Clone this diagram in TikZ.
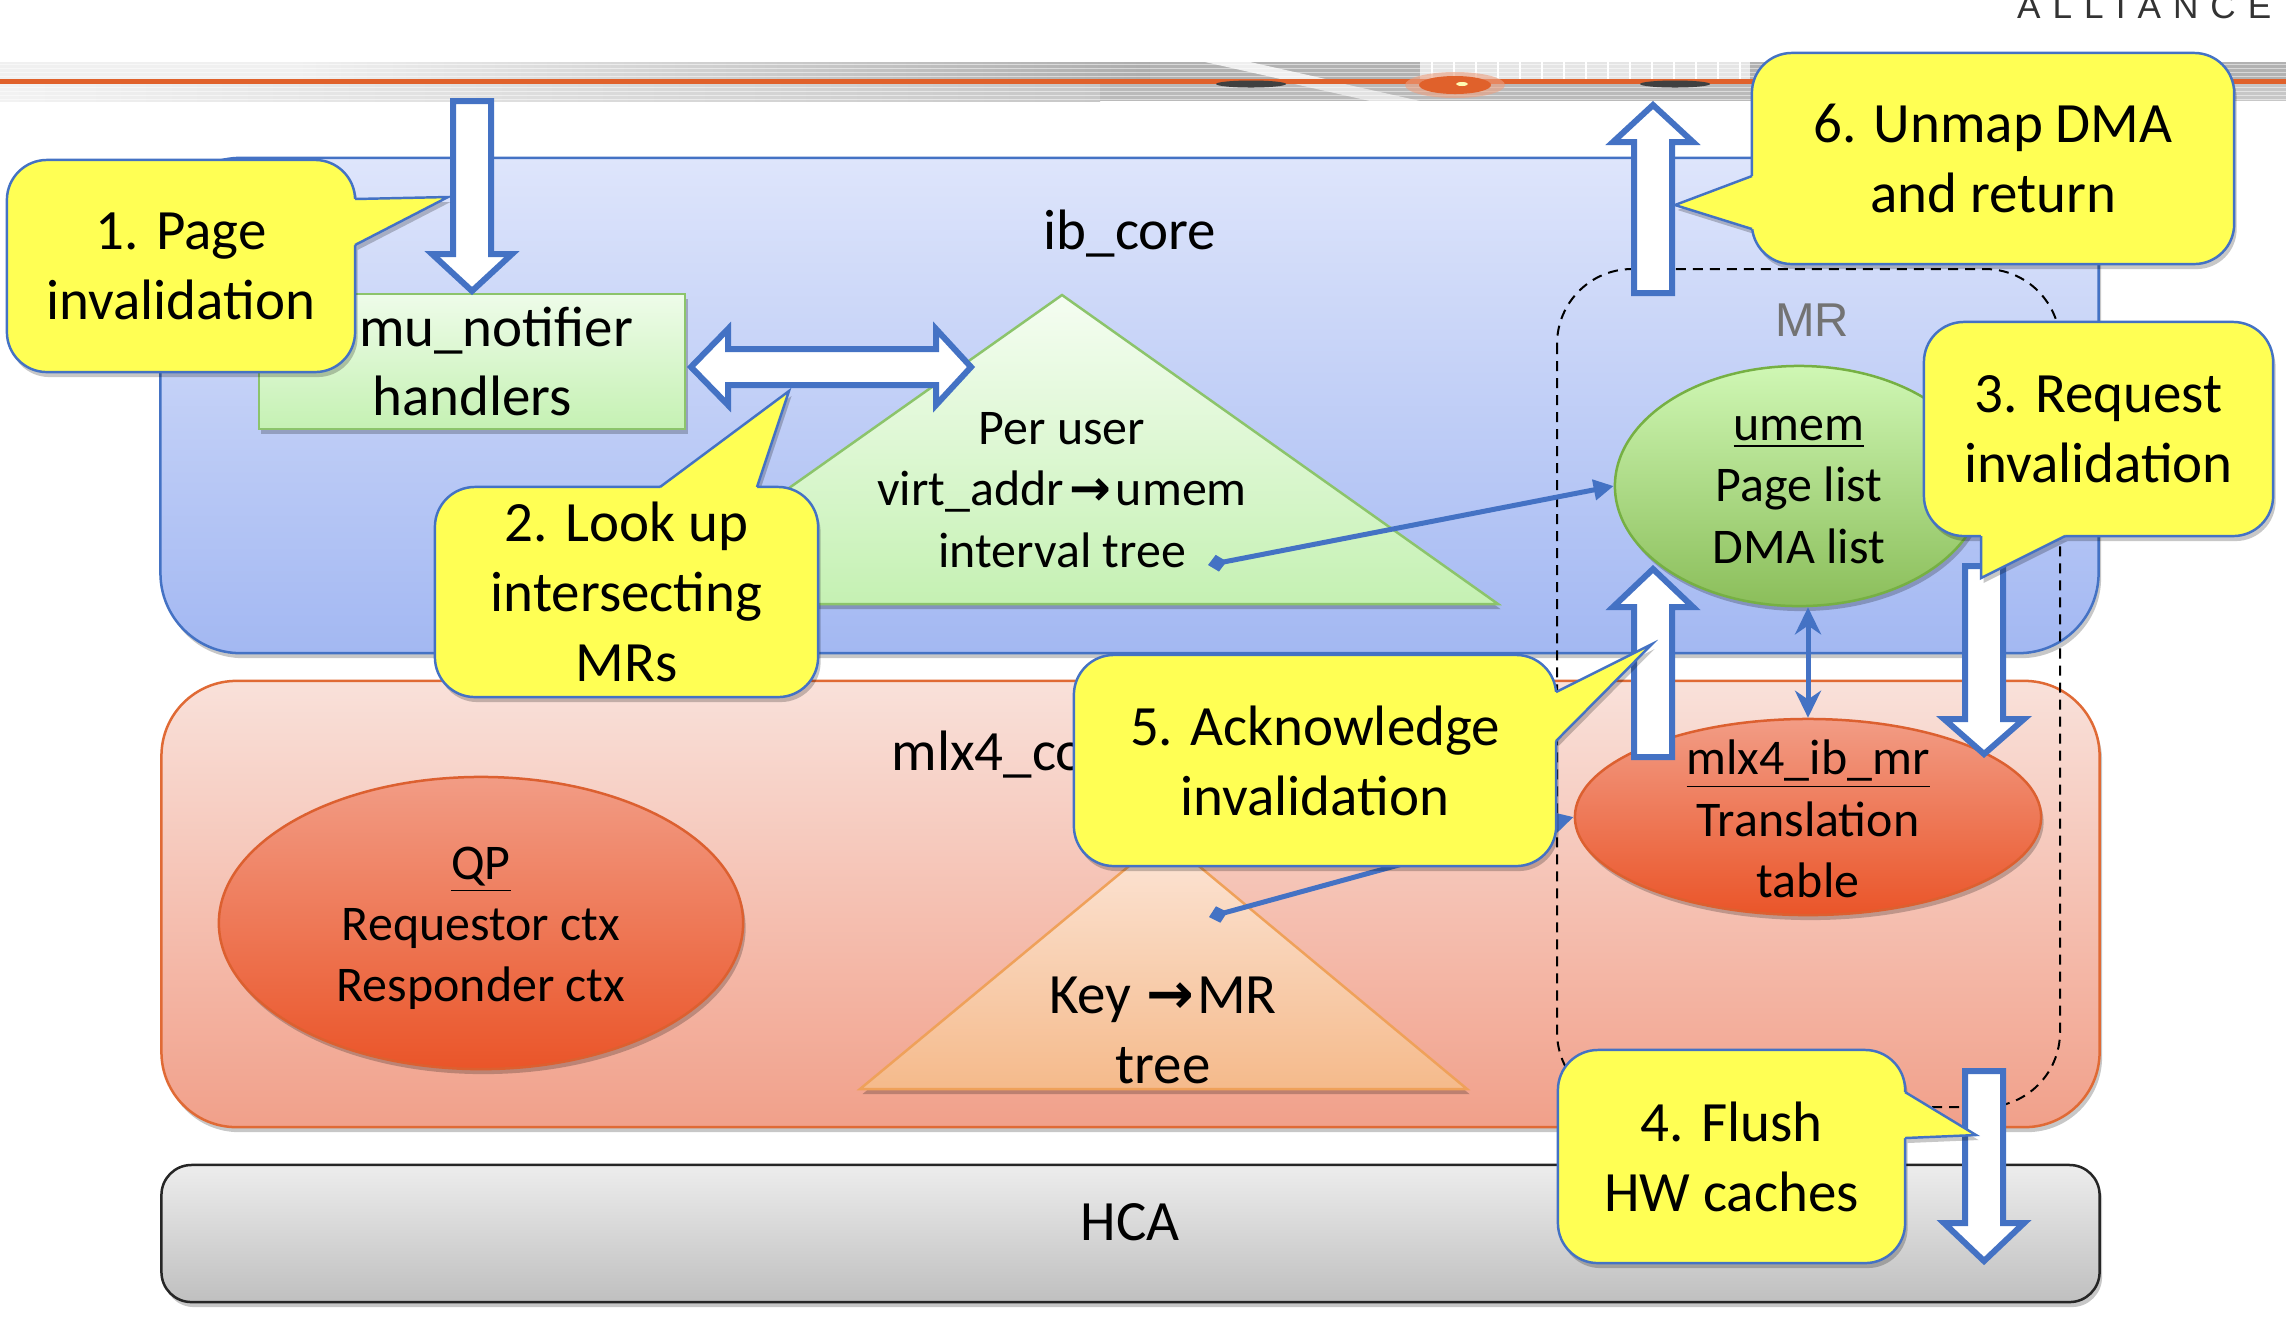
\documentclass[tikz,border=0pt]{standalone}
\usepackage{fontspec}
\setmainfont{Carlito}
\newfontfamily\arrowfont{DejaVu Sans}
\newfontfamily\logofont{Liberation Sans}
\usetikzlibrary{shadows,arrows.meta,shapes.geometric}
\definecolor{cblue}{HTML}{4472C4}
\definecolor{cyel}{HTML}{FFFF54}
\definecolor{corange}{HTML}{E0612B}
\definecolor{ibtop}{HTML}{DEE5FB}
\definecolor{ibbot}{HTML}{A3B8F2}
\definecolor{mlxtop}{HTML}{F9E1DA}
\definecolor{mlxbot}{HTML}{F1A08A}
\definecolor{mlxline}{HTML}{E06A35}
\definecolor{gtop}{HTML}{EEFCE9}
\definecolor{gbot}{HTML}{C5F1B3}
\definecolor{gline}{HTML}{8CC46B}
\definecolor{umtop}{HTML}{CFF7B4}
\definecolor{umbot}{HTML}{8BBE5A}
\definecolor{umline}{HTML}{76B043}
\definecolor{rtop}{HTML}{F29C85}
\definecolor{rbot}{HTML}{EA5529}
\definecolor{rline}{HTML}{DC6030}
\definecolor{ktop}{HTML}{FCE6D8}
\definecolor{kbot}{HTML}{F5BA8B}
\definecolor{kline}{HTML}{EFA15A}
\newcommand\bigtxt{\fontsize{16.2pt}{19.9pt}\selectfont}
\newcommand\smalltxt{\fontsize{14.2pt}{17.4pt}\selectfont}
\newcommand\myarrow{{\arrowfont\bfseries →}}
\tikzset{
  softshadow/.style={drop shadow={shadow xshift=0.025cm,shadow yshift=-0.05cm,opacity=0.22,fill=black}},
  callbox/.style={draw=cblue,line width=0.7pt,fill=cyel,rounded corners=0.4cm,inner sep=0pt,align=center,font=\bigtxt,softshadow},
  ptrshadow/.style={fill=cyel,softshadow},
  ptrline/.style={draw=cblue,line width=0.7pt,line join=miter},
  blockarrow/.style={draw=cblue,line width=0.06cm,fill=white,line join=miter},
  conn/.style={draw=cblue,line width=0.05cm},
  lbl/.style={font=\bigtxt,inner sep=0pt},
  slbl/.style={font=\smalltxt,inner sep=0pt,align=center},
  blbl/.style={font=\bigtxt,inner sep=0pt,align=center},
  layerib/.style={draw=cblue,line width=0.025cm,top color=ibtop,bottom color=ibbot,rounded corners=0.8cm,inner sep=0pt,softshadow},
  layermlx/.style={draw=mlxline,line width=0.025cm,top color=mlxtop,bottom color=mlxbot,rounded corners=0.75cm,inner sep=0pt,softshadow},
  layerhca/.style={draw=black!85,line width=0.025cm,top color=black!7,bottom color=black!25,rounded corners=0.3cm,inner sep=0pt,softshadow},
  greenbox/.style={draw=gline,line width=0.025cm,top color=gtop,bottom color=gbot,inner sep=0pt,align=center,font=\bigtxt,softshadow},
  tri1/.style={draw=gline,line width=0.025cm,top color=gtop!60!white,bottom color=gbot,softshadow},
  tri2/.style={draw=kline,line width=0.025cm,top color=ktop,bottom color=kbot,softshadow},
  umemshape/.style={ellipse,draw=umline,line width=0.025cm,top color=umtop,bottom color=umbot,inner sep=0pt,softshadow},
  redshape/.style={ellipse,draw=rline,line width=0.025cm,top color=rtop,bottom color=rbot,inner sep=0pt,softshadow},
  mrbox/.style={draw=black,line width=0.02cm,dash pattern=on 0.1cm off 0.07cm,rounded corners=0.75cm},
}
\newcommand\vblock[4]{\path[blockarrow] ({#1-19},#2) -- ({#1-19},#3) -- ({#1-40},#3) -- (#1,#4) -- ({#1+40},#3) -- ({#1+19},#3) -- ({#1+19},#2) -- cycle;}
\begin{document}
\begin{tikzpicture}[x=0.01cm,y=-0.01cm]
\useasboundingbox (0,0) rectangle (2286,1326);
\fill[white] (0,0) rectangle (2286,1326);
% ---- banner ----
\fill[black!6] (0,62) rectangle (2286,101);
\shade[left color=black!6, right color=black!32] (300,62) rectangle (1150,80);
\fill[black!30] (1150,62) rectangle (1420,80);
\fill[white, opacity=0.8] (1205,62) -- (1250,62) -- (1330,80) -- (1285,80) -- cycle;
\fill[black!10] (1420,62) rectangle (1750,80);
\foreach \xx in {1432,1454,...,1750} \draw[white, line width=0.015cm] (\xx,62) -- (\xx,80);
\fill[black!30] (1750,62) rectangle (2286,80);
\shade[left color=black!5, right color=black!22] (0,83) rectangle (1100,101);
\fill[black!27] (1100,83) rectangle (1800,101);
\fill[white, opacity=0.6] (1290,83) -- (1340,83) -- (1420,101) -- (1370,101) -- cycle;
\fill[black!22] (1800,83) rectangle (2286,101);
\foreach \yy in {64,68,72,76,87,91,95,99} \draw[white, opacity=0.5, line width=0.01cm] (0,\yy) -- (2286,\yy);
\draw[corange, line width=0.045cm] (0,81.5) -- (2286,81.5);
\fill[black!75] (1251,84) ellipse [x radius=35, y radius=3.5];
\fill[black!75] (1675,84) ellipse [x radius=35, y radius=3.5];
\fill[corange!60, opacity=0.6] (1455,85) ellipse [x radius=50, y radius=13];
\fill[corange] (1455,85) ellipse [x radius=36, y radius=9];
\fill[yellow!30] (1462,84) ellipse [x radius=6, y radius=2];
\begin{scope}
\clip (0,0) rectangle (2286,1326);
\node[anchor=base east, inner sep=0pt, text=black!80, font=\logofont\fontsize{10pt}{12pt}\selectfont] (alliance) at (2272,18) {A\kern0.12cm L\kern0.12cm L\kern0.12cm I\kern0.12cm A\kern0.12cm N\kern0.12cm C\kern0.12cm E};
\end{scope}
% ---- layers ----
\node[layerib, minimum width=19.37cm, minimum height=4.95cm] (ibcore) at (1129.5,405.5) {};
\node[layermlx, minimum width=19.37cm, minimum height=4.46cm] (mlxcore) at (1130.5,904) {};
\node[layerhca, minimum width=19.37cm, minimum height=1.37cm] (hca) at (1130.5,1233.5) {};
\node[lbl] (iblabel) at (1130,234) {ib\_core};
\node[lbl, anchor=west] (mlxlabel) at (891,755) {mlx4\_core};
\node[lbl] (hcalabel) at (1130,1222) {HCA};
% ---- MR region ----
\draw[mrbox] (1557,269) rectangle (2060,1107);
\node[inner sep=0pt, text=black!55, font=\logofont\fontsize{13.5pt}{16pt}\selectfont] (mrlabel) at (1812,320) {MR};
% ---- ib_core content ----
\node[greenbox, minimum width=4.26cm, minimum height=1.35cm] (mubox) at (472,361.5) {\hspace*{0.48cm}mu\_notifier\\handlers};
\path[tri1] (1062,295) coordinate (ivapex) -- (1498,604) coordinate (ivright) -- (625,604) coordinate (ivleft) -- cycle;
\node[slbl] (ivtree) at (1062,490) {Per user\\virt\_addr\kern0.05cm\myarrow\kern0.05cm umem\\interval tree};
\node[umemshape, minimum width=3.68cm, minimum height=2.4cm] (umem) at (1799,486) {};
\node[slbl] (umemtext) at (1799,490) {\underline{umem}\\Page list\\DMA list};
% ---- mlx4_core content ----
\node[redshape, minimum width=5.24cm, minimum height=2.92cm] (qp) at (481,923) {};
\node[slbl] (qptext) at (481,928) {\underline{QP}\\Requestor ctx\\Responder ctx};
\path[tri2] (1164,837) coordinate (keyapex) -- (1467,1089) coordinate (keyright) -- (860,1089) coordinate (keyleft) -- cycle;
\node[blbl] (keytree) at (1163,1030) {Key \kern0.02cm\myarrow\kern0.03cm MR\\tree};
\node[redshape, minimum width=4.66cm, minimum height=1.96cm] (mlxmr) at (1808,817) {};
\node[slbl] (mlxmrtext) at (1808,819) {\underline{mlx4\_ib\_mr}\\Translation\\table};
% ---- connectors ----
\coordinate (ivend) at (1208,565);
\coordinate (keyend) at (1209,917);
\draw[conn, {Diamond[length=0.19cm,width=0.17cm]}-{Triangle[length=0.2cm,width=0.2cm]}] (ivend) -- (umem.west);
\draw[conn, {Diamond[length=0.19cm,width=0.17cm]}-{Triangle[length=0.2cm,width=0.2cm]}] (keyend) -- (mlxmr.west);
\draw[conn, {Stealth[length=0.27cm,width=0.26cm]}-{Stealth[length=0.27cm,width=0.26cm]}] (mlxmr.north) -- (mlxmr.north |- umem.south);
% ---- block arrows ----
\vblock{472}{101}{254}{291}
\vblock{1653}{293}{142}{105}
\vblock{1653}{757}{607}{569}
\vblock{1984}{566}{719}{754}
\vblock{1984}{1071}{1223}{1261}
\path[blockarrow] (691,367) -- (728,329) -- (728,349) -- (936,349) -- (936,329) -- (971,367) -- (936,405) -- (936,385) -- (728,385) -- (728,405) -- cycle;
% ---- callouts ----
% 1
\path[ptrshadow] (355,199) -- (448,197) -- (355,245) -- cycle;
\node[callbox, minimum width=3.48cm, minimum height=2.12cm] (c1) at (181,266) {1. Page\\invalidation};
\fill[cyel] (349,199) -- (355,199) -- (448,197) -- (355,245) -- (349,245) -- cycle;
\draw[ptrline] (355,199) -- (448,197) -- (355,245);
% 2
\path[ptrshadow] (660,487) -- (789,391) -- (757,487) -- cycle;
\node[callbox, minimum width=3.83cm, minimum height=2.10cm] (c2) at (626.5,592) {2. Look up\\intersecting\\MRs};
\fill[cyel] (660,493) -- (660,487) -- (789,391) -- (757,487) -- (757,493) -- cycle;
\draw[ptrline] (660,487) -- (789,391) -- (757,487);
% 3
\path[ptrshadow] (1981,536) -- (1981,578) -- (2065,536) -- cycle;
\node[callbox, minimum width=3.49cm, minimum height=2.14cm] (c3) at (2098.5,429) {3. Request\\invalidation};
\fill[cyel] (1981,530) -- (1981,536) -- (1981,578) -- (2065,536) -- (2065,530) -- cycle;
\draw[ptrline] (1981,536) -- (1981,578) -- (2065,536);
% 4
\path[ptrshadow] (1905,1092) -- (1976,1135) -- (1905,1138) -- cycle;
\node[callbox, minimum width=3.47cm, minimum height=2.13cm] (c4) at (1731.5,1156.5) {4. Flush\\HW caches};
\fill[cyel] (1899,1092) -- (1905,1092) -- (1976,1135) -- (1905,1138) -- (1899,1138) -- cycle;
\draw[ptrline] (1905,1092) -- (1976,1135) -- (1905,1138);
% 5
\path[ptrshadow] (1556,692) -- (1652,644) -- (1556,741) -- cycle;
\node[callbox, minimum width=4.82cm, minimum height=2.11cm] (c5) at (1315,760.5) {5. Acknowledge\\invalidation};
\fill[cyel] (1550,692) -- (1556,692) -- (1652,644) -- (1556,741) -- (1550,741) -- cycle;
\draw[ptrline] (1556,692) -- (1652,644) -- (1556,741);
% 6
\path[ptrshadow] (1752,176) -- (1675,205) -- (1752,229) -- cycle;
\node[callbox, minimum width=4.82cm, minimum height=2.11cm] (c6) at (1993,158.5) {6. Unmap DMA\\and return};
\fill[cyel] (1758,176) -- (1752,176) -- (1675,205) -- (1752,229) -- (1758,229) -- cycle;
\draw[ptrline] (1752,176) -- (1675,205) -- (1752,229);
\end{tikzpicture}
\end{document}
